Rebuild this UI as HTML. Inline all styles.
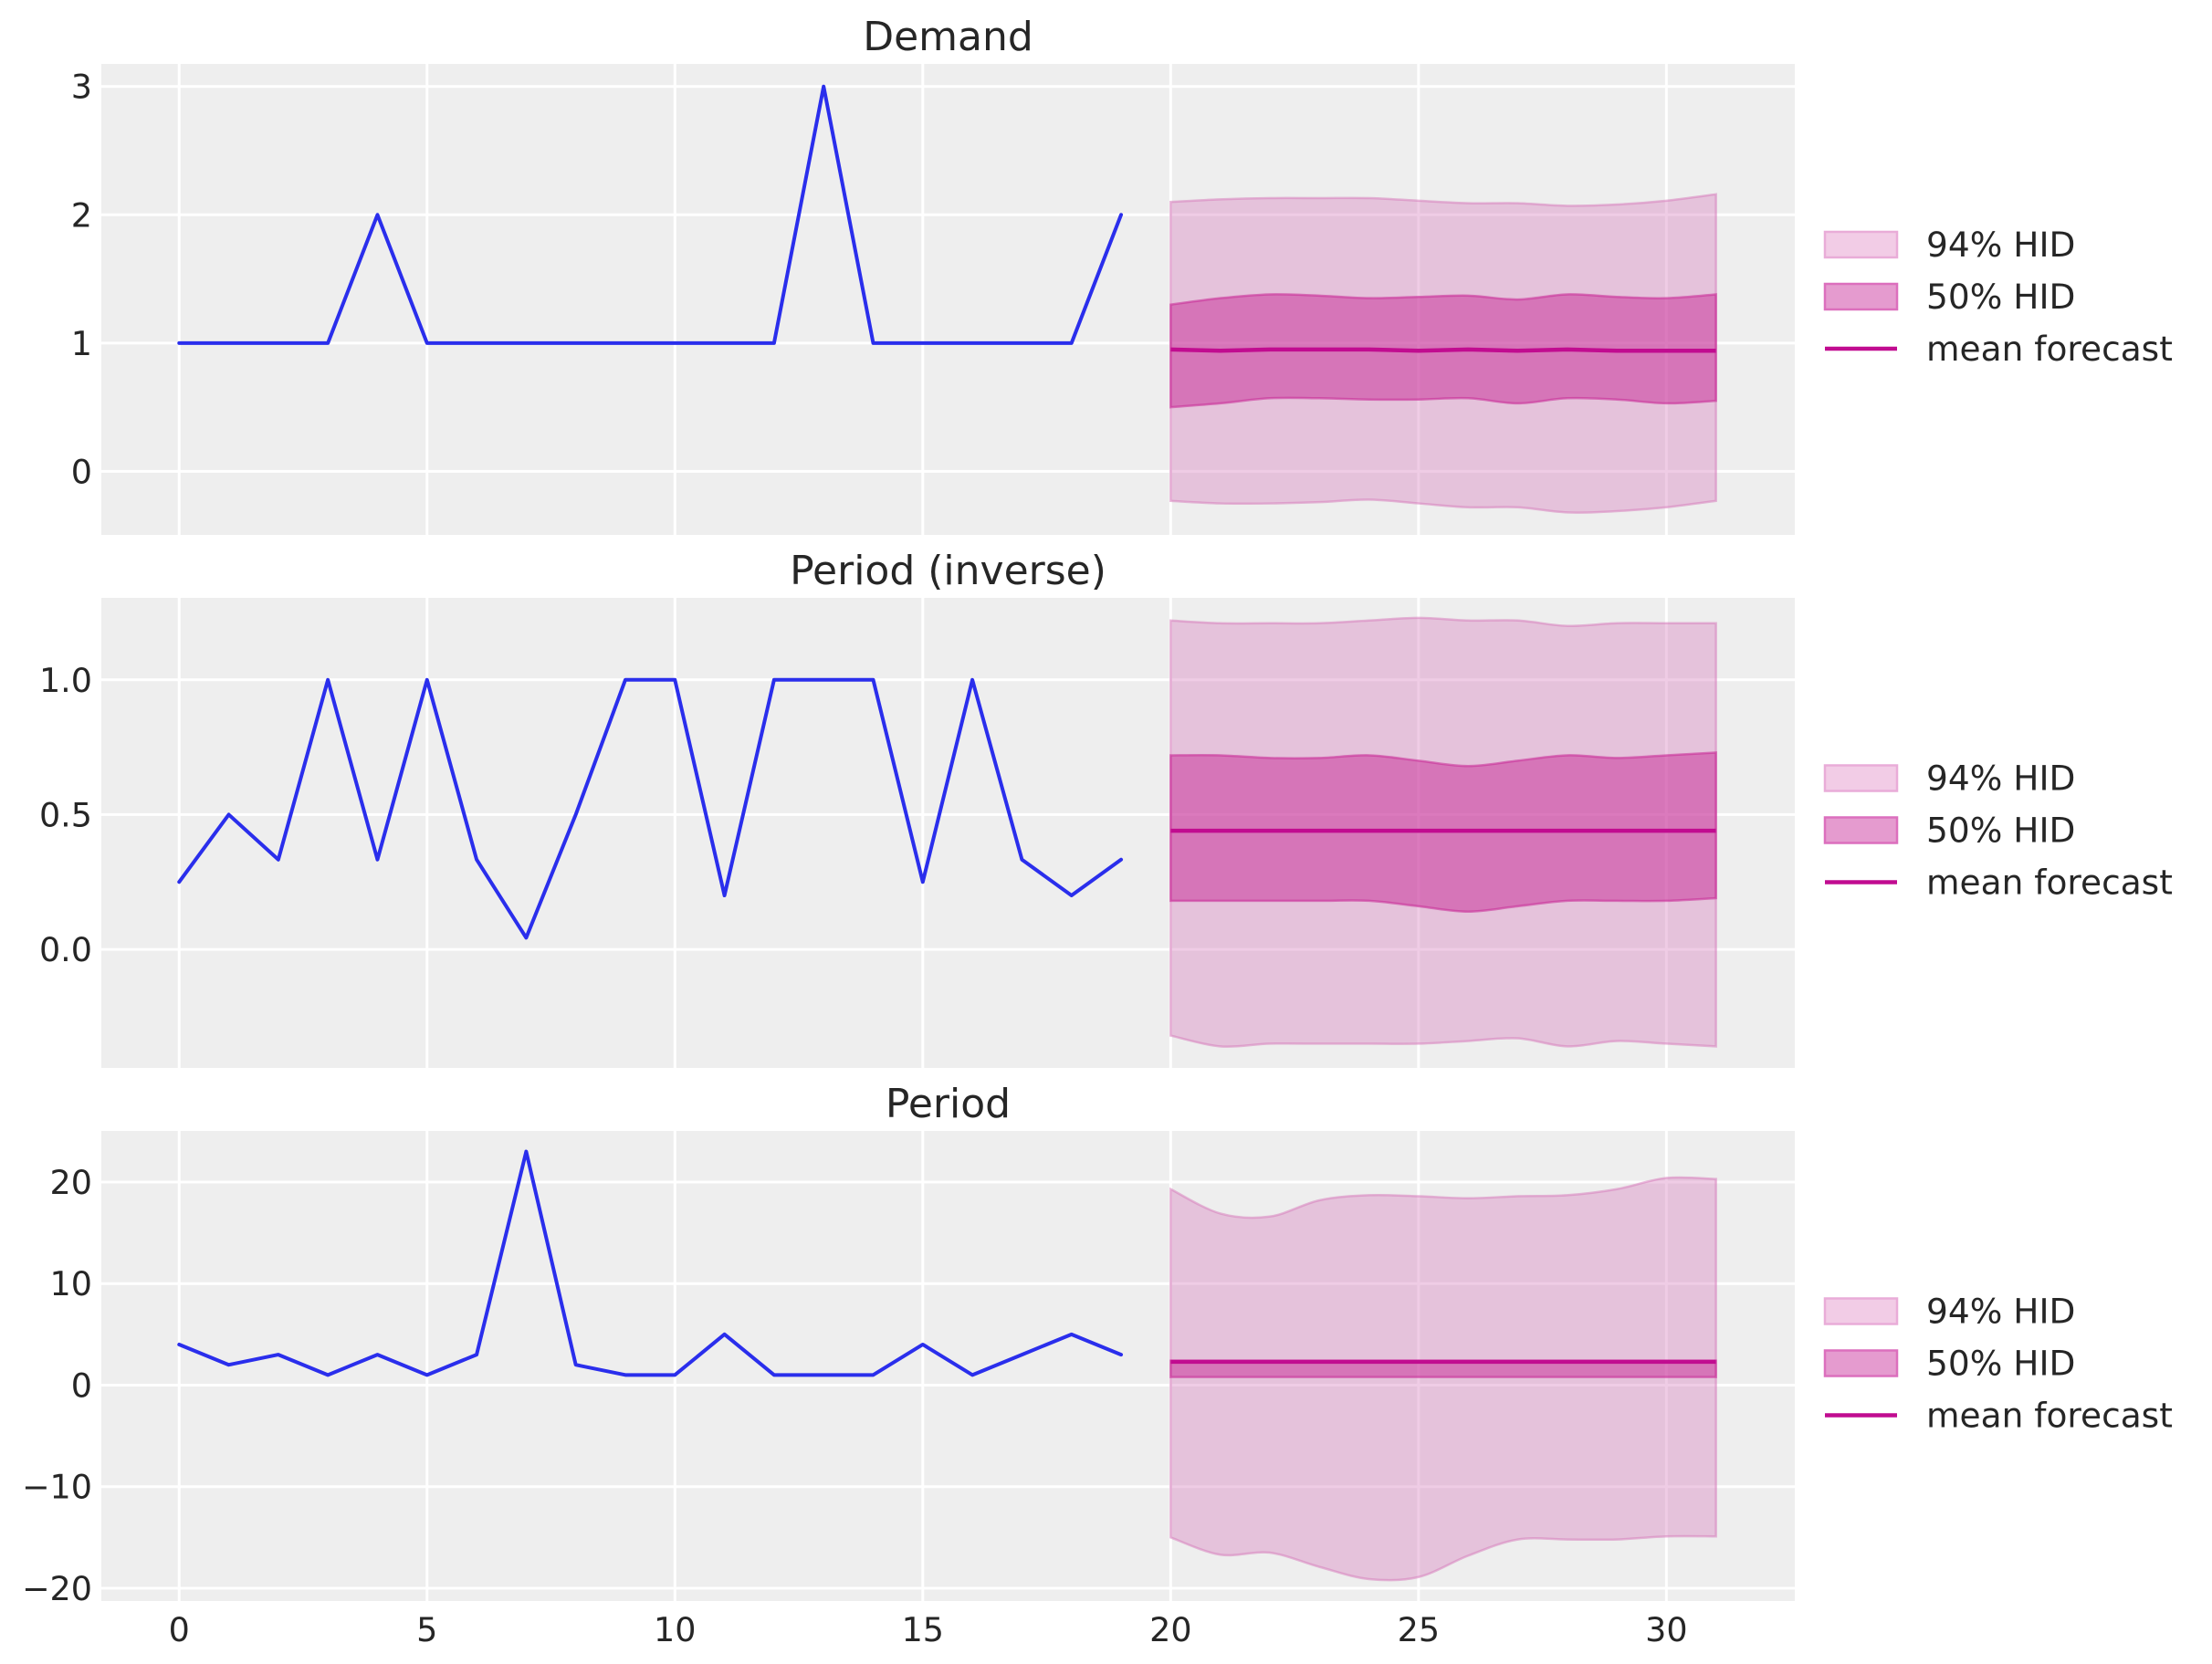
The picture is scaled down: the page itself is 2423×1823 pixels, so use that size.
<!DOCTYPE html>
<html><head><meta charset="utf-8">
<style>
html,body{margin:0;padding:0;background:#fff;}
svg{display:block;font-family:"DejaVu Sans","Liberation Sans",sans-serif;}
</style></head>
<body>
<svg id="chart" xmlns="http://www.w3.org/2000/svg" width="2423" height="1823" viewBox="0 0 2423 1823"></svg>
<script>
const histX = [0,1,2,3,4,5,6,7,8,9,10,11,12,13,14,15,16,17,18,19];
const foreX = [20,21,22,23,24,25,26,27,28,29,30,31];
const demandHist = [1,1,1,1,2,1,1,1,1,1,1,1,1,3,1,1,1,1,1,2];
const demandHi94 = [2.10,2.12,2.13,2.13,2.13,2.11,2.09,2.09,2.07,2.08,2.11,2.16];
const demandLo94 = [-0.23,-0.25,-0.25,-0.24,-0.22,-0.25,-0.28,-0.28,-0.32,-0.31,-0.28,-0.23];
const demandHi50 = [1.30,1.35,1.38,1.37,1.35,1.36,1.37,1.34,1.38,1.36,1.35,1.38];
const demandLo50 = [0.50,0.53,0.57,0.57,0.56,0.56,0.57,0.53,0.57,0.56,0.53,0.55];
const demandMean = [0.95,0.94,0.95,0.95,0.95,0.94,0.95,0.94,0.95,0.94,0.94,0.94];
const invHist = [0.25,0.5,0.333,1,0.333,1,0.333,0.043,0.5,1,1,0.2,1,1,1,0.25,1,0.333,0.2,0.333];
const invHi94 = [1.22,1.21,1.21,1.21,1.22,1.23,1.22,1.22,1.20,1.21,1.21,1.21];
const invLo94 = [-0.32,-0.36,-0.35,-0.35,-0.35,-0.35,-0.34,-0.33,-0.36,-0.34,-0.35,-0.36];
const invHi50 = [0.72,0.72,0.71,0.71,0.72,0.70,0.68,0.70,0.72,0.71,0.72,0.73];
const invLo50 = [0.18,0.18,0.18,0.18,0.18,0.16,0.14,0.16,0.18,0.18,0.18,0.19];
const invMean = [0.44,0.44,0.44,0.44,0.44,0.44,0.44,0.44,0.44,0.44,0.44,0.44];
const perHist = [4,2,3,1,3,1,3,23,2,1,1,5,1,1,1,4,1,3,5,3];
const perHi94 = [19.3,16.9,16.6,18.2,18.7,18.6,18.4,18.6,18.7,19.3,20.4,20.3];
const perLo94 = [-15.0,-16.7,-16.5,-17.9,-19.1,-18.9,-16.8,-15.2,-15.2,-15.2,-14.9,-14.9];
const perHi50 = [2.4,2.4,2.4,2.4,2.4,2.4,2.4,2.4,2.4,2.4,2.4,2.4];
const perLo50 = [0.8,0.8,0.8,0.8,0.8,0.8,0.8,0.8,0.8,0.8,0.8,0.8];
const perMean = [2.3,2.3,2.3,2.3,2.3,2.3,2.3,2.3,2.3,2.3,2.3,2.3];
const xTicks = [0,5,10,15,20,25,30];
const xTickLabels = ["0","5","10","15","20","25","30"];
const demandTicks = [0,1,2,3];
const demandTickLabels = ["0","1","2","3"];
const invTicks = [0,0.5,1];
const invTickLabels = ["0.0","0.5","1.0"];
const perTicks = [-20,-10,0,10,20];
const perTickLabels = ["\u221220","\u221210","0","10","20"];
const titles = ["Demand","Period (inverse)","Period"];

const NS="http://www.w3.org/2000/svg";
const svg=document.getElementById('chart');
function el(tag,attrs,parent){const e=document.createElementNS(NS,tag);for(const k in attrs)e.setAttribute(k,attrs[k]);(parent||svg).appendChild(e);return e;}
const AX_L=111, AX_R=1966, XMIN=-1.57, XMAX=32.59;
const xs=v=>AX_L+(v-XMIN)/(XMAX-XMIN)*(AX_R-AX_L);

function smooth(pts){
  let d=`M${pts[0][0]},${pts[0][1]}`;
  for(let i=0;i<pts.length-1;i++){
    const p0=pts[i-1]||pts[i],p1=pts[i],p2=pts[i+1],p3=pts[i+2]||p2;
    const c1=[p1[0]+(p2[0]-p0[0])/6,p1[1]+(p2[1]-p0[1])/6];
    const c2=[p2[0]-(p3[0]-p1[0])/6,p2[1]-(p3[1]-p1[1])/6];
    d+=` C${c1[0]},${c1[1]} ${c2[0]},${c2[1]} ${p2[0]},${p2[1]}`;
  }
  return d;
}
function band(ys,hi,lo){
  const up=foreX.map((x,i)=>[xs(x),ys(hi[i])]);
  const dn=foreX.map((x,i)=>[xs(x),ys(lo[i])]).reverse();
  let d=smooth(up);
  d+=' L'+smooth(dn).slice(1)+' Z';
  return d;
}

const panels=[
 {top:70,bot:586,ymin:-0.495,ymax:3.176,hist:demandHist,hi94:demandHi94,lo94:demandLo94,hi50:demandHi50,lo50:demandLo50,mean:demandMean,ticks:demandTicks,labels:demandTickLabels,key:'demand'},
 {top:655,bot:1170,ymin:-0.44,ymax:1.304,hist:invHist,hi94:invHi94,lo94:invLo94,hi50:invHi50,lo50:invLo50,mean:invMean,ticks:invTicks,labels:invTickLabels,key:'period-inverse'},
 {top:1239,bot:1754,ymin:-21.26,ymax:25.03,hist:perHist,hi94:perHi94,lo94:perLo94,hi50:perHi50,lo50:perLo50,mean:perMean,ticks:perTicks,labels:perTickLabels,key:'period'}
];

const LF=37.5;
panels.forEach((p,pi)=>{
  const g=el('g',{});
  
  
  const ys=v=>p.bot-(v-p.ymin)/(p.ymax-p.ymin)*(p.bot-p.top);
  const bg=el('rect',{x:AX_L,y:p.top,width:AX_R-AX_L,height:p.bot-p.top,fill:'#eeeeee'},g);
  
  
  xTicks.forEach((t,i)=>{
    const l=el('line',{x1:xs(t),x2:xs(t),y1:p.top,y2:p.bot,stroke:'#ffffff','stroke-width':3},g);
    
    
    if(pi===2){
      const tx=el('text',{x:xs(t),y:1798,'text-anchor':'middle','font-size':36.5,fill:'#262626'},g);
      tx.textContent=xTickLabels[i];
      
      
    }
  });
  p.ticks.forEach((t,i)=>{
    const l=el('line',{x1:AX_L,x2:AX_R,y1:ys(t),y2:ys(t),stroke:'#ffffff','stroke-width':3},g);
    
    
    const tx=el('text',{x:101,y:ys(t)+13,'text-anchor':'end','font-size':36.5,fill:'#262626'},g);
    tx.textContent=p.labels[i];
    
    
  });
  const b94=el('path',{d:band(ys,p.hi94,p.lo94),fill:'rgb(216,128,190)','fill-opacity':0.4,stroke:'rgb(214,120,186)','stroke-opacity':0.5,'stroke-width':2.5},g);
  
  
  const b50=el('path',{d:band(ys,p.hi50,p.lo50),fill:'rgb(200,40,150)','fill-opacity':0.5,stroke:'rgb(200,40,150)','stroke-opacity':0.55,'stroke-width':2.5},g);
  
  
  const mline=el('polyline',{points:foreX.map((x,i)=>xs(x)+','+ys(p.mean[i])).join(' '),fill:'none',stroke:'#c10c90','stroke-width':4.5},g);
  
  
  const hl=el('polyline',{points:histX.map((x,i)=>xs(x)+','+ys(p.hist[i])).join(' '),fill:'none',stroke:'#2a2eec','stroke-width':4,'stroke-linejoin':'round','stroke-linecap':'round'},g);
  
  
  const title=el('text',{x:(AX_L+AX_R)/2,y:p.top-15,'text-anchor':'middle','font-size':44,fill:'#262626'},g);
  title.textContent=titles[pi];
  
  
  const c=(p.top+p.bot)/2-2;
  const lg=el('g',{},g);
  
  
  const r1=el('rect',{x:1999,y:c-72,width:79,height:28,fill:'#f2cce6',stroke:'#e9acd8','stroke-width':2.5},lg);
  
  
  const t1=el('text',{x:2110,y:c-45,'font-size':LF,fill:'#262626'},lg);
  t1.textContent='94% HID';
  
  
  const r2=el('rect',{x:1999,y:c-15,width:79,height:28,fill:'#e59bcf',stroke:'#dc6fbd','stroke-width':2.5},lg);
  
  
  const t2=el('text',{x:2110,y:c+12,'font-size':LF,fill:'#262626'},lg);
  t2.textContent='50% HID';
  
  
  const ll=el('line',{x1:1999,x2:2078,y1:c+56,y2:c+56,stroke:'#c10c90','stroke-width':4.5},lg);
  
  
  const t3=el('text',{x:2110,y:c+69,'font-size':LF,fill:'#262626'},lg);
  t3.textContent='mean forecast';
  
  
});
</script>
</body></html>
